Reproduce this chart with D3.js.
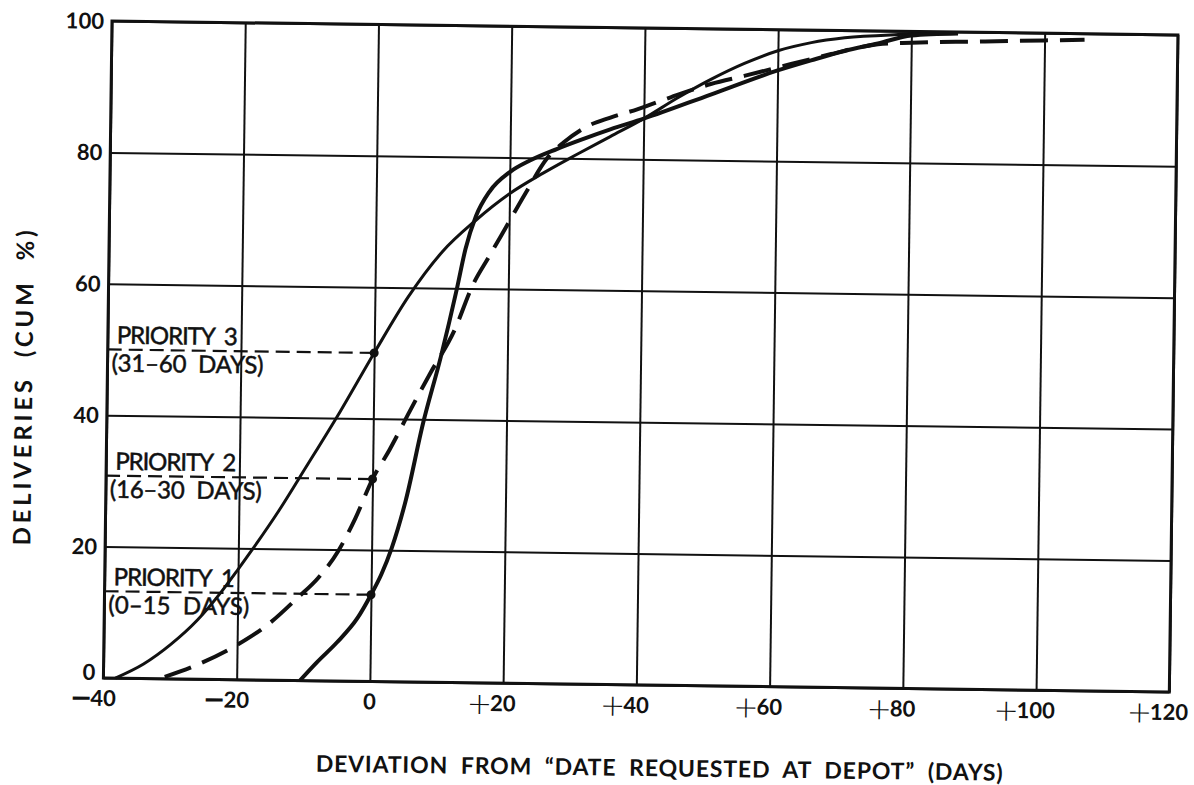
<!DOCTYPE html>
<html><head><meta charset="utf-8">
<script src="https://cdn.jsdelivr.net/npm/d3@7"></script>
<style>html,body{margin:0;padding:0;background:#fff;} svg{display:block;} text{white-space:pre;}</style>
</head><body>
<svg id="chart" width="1194" height="785"></svg>
<script>
// ---------- data ----------
const xTicks = [-40, -20, 0, 20, 40, 60, 80, 100, 120];
const xTickLabels = ["−40", "−20", "0", "+20", "+40", "+60", "+80", "+100", "+120"];
const yTicks = [0, 20, 40, 60, 80, 100];
const yTickLabels = ["0", "20", "40", "60", "80", "100"];

const priorityNames = ["PRIORITY  1", "PRIORITY  2", "PRIORITY  3"];
const priorityRanges = ["(0–15  DAYS)", "(16–30  DAYS)", "(31–60  DAYS)"];
const priorityAtZero = [13.2, 30.8, 50];   // cumulative % delivered by day 0

// Priority 1 (solid, steep)
const priority1 = [[-10.5,0],[-8,2.8],[-5,5.9],[-2,9.6],[0,13.2],[1.5,16.3],[3,20.3],[5,27.5],[7.5,39.5],[10,49.5],
  [12.3,60],[13.5,66],[15,71],[17,74.8],[20,77.8],[23,79.6],[27,81.4],[31,83],[35,84.5],[40,86.2],
  [50,90],[60,93.8],[65,95.4],[70,96.9],[75,98.1],[80,99.4],[87,99.8]];
// Priority 2 (dashed)
const priority2 = [[-30.8,0.3],[-25.5,2.4],[-20,5.3],[-15,8.8],[-11,12.6],[-8,15.6],[-5,19.8],[-2.5,24.8],[0,30.8],
  [2.5,35.3],[5.5,41.3],[8.5,47.1],[12,53.6],[14.7,60.6],[17,64.8],[19.7,69.7],[22.4,74.6],[25.6,80],
  [28,82.4],[31.5,84.9],[35,86.3],[39,87.6],[44,89.5],[50,91.6],[55,92.9],[62,94.8],[68,96.4],[75,98],
  [80,98.3],[90,98.6],[100,98.9],[106,99.1]];
// Priority 3 (solid, shallow)
const priority3 = [[-38.2,0],[-34,2.2],[-30,5.2],[-26,9],[-22.5,13.3],[-20,16.8],[-18,19.7],[-14,25.8],[-10,32.5],[-5,41],
  [0,50],[5,58.6],[10,65.5],[15,70.4],[20,74.5],[25,77.7],[30,80.6],[35,83.4],[40,86.2],[45,89.4],
  [50,92.3],[55,94.8],[60,96.8],[65,98.1],[70,98.9],[78,99.5],[86,99.8]];

const xTitle = "DEVIATION  FROM  “DATE  REQUESTED  AT  DEPOT”  (DAYS)";
const yTitle = "DELIVERIES  (CUM  %)";

// ---------- chart ----------
const FONT = "Lato, 'Liberation Sans', sans-serif";
const SIGNFONT = "'DejaVu Sans', sans-serif";
const INK = "#111";
const svg = d3.select("#chart");
const x = d3.scaleLinear().domain([-40, 120]).range([112, 1178]);
const y = d3.scaleLinear().domain([0, 100]).range([678, 21]);
const [x0, x1] = x.range(), [y0, y1] = y.range();

// the original scan is tilted slightly clockwise
const g = svg.append("g").attr("transform", `rotate(0.75,${x0},${y1})`);

// grid lines via axes
g.append("g").attr("transform", `translate(0,${y0})`)
  .call(d3.axisBottom(x).tickValues(xTicks).tickSize(-(y0 - y1)).tickFormat(""))
  .call(s => s.select(".domain").remove())
  .call(s => s.selectAll("line").attr("stroke", INK).attr("stroke-width", 2));
g.append("g").attr("transform", `translate(${x0},0)`)
  .call(d3.axisLeft(y).tickValues(yTicks).tickSize(-(x1 - x0)).tickFormat(""))
  .call(s => s.select(".domain").remove())
  .call(s => s.selectAll("line").attr("stroke", INK).attr("stroke-width", 2));

// frame
g.append("rect").attr("x", x0).attr("y", y1).attr("width", x1 - x0).attr("height", y0 - y1)
  .attr("fill", "none").attr("stroke", INK).attr("stroke-width", 3);

// y tick labels
g.append("g").selectAll("text").data(yTicks).join("text")
  .attr("x", x0 - 8).attr("y", d => d === y.domain()[0] ? y(d) + 2 : y(d)).attr("dy", d => d === y.domain()[0] ? 0 : "0.36em")
  .attr("text-anchor", "end").attr("font-family", FONT).attr("font-weight", 700)
  .attr("font-size", 22).attr("fill", INK)
  .text((d, i) => yTickLabels[i]);

// x tick labels: numeral centred on the grid line, sign hung to the left
const xl = g.append("g");
xTicks.forEach((v, i) => {
  const lab = xTickLabels[i];
  const sign = (lab[0] === "+" || lab[0] === "−") ? lab[0] : "";
  const num = sign ? lab.slice(1) : lab;
  const by = y0 + 28;
  const t = xl.append("text").attr("x", x(v)).attr("y", by)
    .attr("text-anchor", "middle").attr("font-family", FONT).attr("font-weight", 700)
    .attr("font-size", 22).attr("fill", INK).text(num);
  if (sign) {
    const w = t.node().getComputedTextLength();
    const plus = sign === "+";
    xl.append("text").attr("x", x(v) - w / 2 + (plus ? 2 : 2)).attr("y", by + (plus ? 3 : 1))
      .attr("text-anchor", "end").attr("font-family", SIGNFONT)
      .attr("font-weight", plus ? 200 : 700)
      .attr("font-size", plus ? 30 : 27).attr("fill", INK).text(sign);
  }
});

// axis titles
g.append("text").attr("x", 669).attr("y", 769).attr("text-anchor", "middle")
  .attr("font-family", FONT).attr("font-weight", 700).attr("font-size", 23).attr("fill", INK)
  .attr("textLength", 687).attr("lengthAdjust", "spacing").text(xTitle);
g.append("text").attr("transform", "translate(37,389) rotate(-90)").attr("text-anchor", "middle")
  .attr("font-family", FONT).attr("font-weight", 700).attr("font-size", 24).attr("fill", INK)
  .attr("textLength", 315).attr("lengthAdjust", "spacing").text(yTitle);

// priority reference lines and labels
const pr = g.append("g");
priorityAtZero.forEach((v, i) => {
  pr.append("line").attr("x1", x0).attr("x2", x(0)).attr("y1", y(v)).attr("y2", y(v))
    .attr("stroke", INK).attr("stroke-width", 2.2).attr("stroke-dasharray", "14,7");
  pr.append("text").attr("x", x0 + 9).attr("y", y(v) - 6)
    .attr("font-family", FONT).attr("font-weight", 400).attr("font-size", 24).attr("fill", INK)
    .attr("stroke", INK).attr("stroke-width", 0.5)
    .attr("textLength", 121).attr("lengthAdjust", "spacing").text(priorityNames[i]);
  pr.append("text").attr("x", x0 + 4).attr("y", y(v) + 22)
    .attr("font-family", FONT).attr("font-weight", 400).attr("font-size", 24).attr("fill", INK)
    .attr("stroke", INK).attr("stroke-width", 0.5)
    .attr("textLength", i === 0 ? 141 : 152).attr("lengthAdjust", "spacing").text(priorityRanges[i]);
});

// curves
const line = d3.line().x(d => x(d[0])).y(d => y(d[1])).curve(d3.curveMonotoneX);
g.append("path").datum(priority3).attr("d", line).attr("fill", "none")
  .attr("stroke", INK).attr("stroke-width", 3);
g.append("path").datum(priority2).attr("d", line).attr("fill", "none")
  .attr("stroke", INK).attr("stroke-width", 4).attr("stroke-dasharray", "28,12");
g.append("path").datum(priority1).attr("d", line).attr("fill", "none")
  .attr("stroke", INK).attr("stroke-width", 4);

pr.raise();
g.append("g").selectAll("circle").data(priorityAtZero).join("circle")
  .attr("cx", x(0)).attr("cy", d => y(d)).attr("r", 4.5).attr("fill", INK);
</script>
</body></html>
